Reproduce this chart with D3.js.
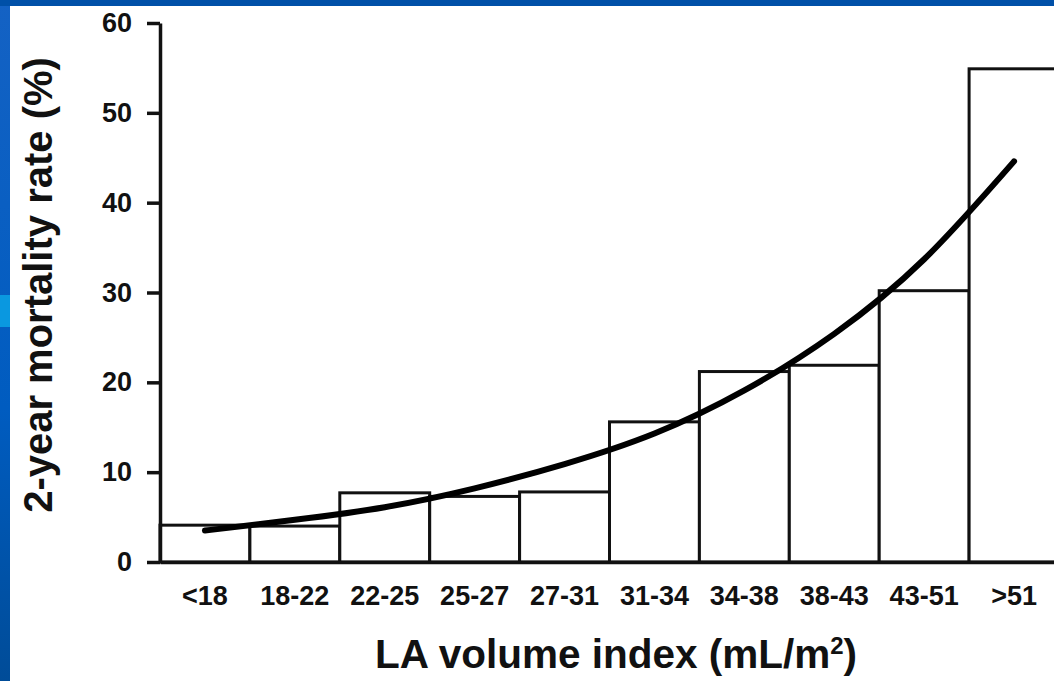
<!DOCTYPE html>
<html>
<head>
<meta charset="utf-8">
<script src="https://cdn.jsdelivr.net/npm/d3@7"></script>
<style>
  body { margin: 0; overflow: hidden; background: #fff; }
  text { font-family: "Liberation Sans", Arial, Helvetica, sans-serif; font-weight: bold; fill: #111; }
</style>
</head>
<body>
<div id="chart"></div>
<script>
// values
const categories = ["<18", "18-22", "22-25", "25-27", "27-31", "31-34", "34-38", "38-43", "43-51", ">51"];
const mortality = [4.1, 4.0, 7.7, 7.3, 7.8, 15.6, 21.2, 21.9, 30.2, 54.9];
// fitted curve, read at each bin centre
const fitCurve = [3.5, 4.7, 6.1, 8.2, 10.9, 14.3, 19.1, 25.4, 33.7, 44.6];
const yTicks = [0, 10, 20, 30, 40, 50, 60];

const width = 1054;
const height = 681;

const margin = {
    top: 23,
    left: 160,
    right: -5,
    bottom: 119
};

const svg = d3.select("#chart")
    .append("svg")
    .attr("width", width)
    .attr("height", height);

// slide frame
const grad = svg.append("defs").append("linearGradient")
    .attr("id", "side")
    .attr("x1", 0).attr("y1", 0).attr("x2", 0).attr("y2", 1);
grad.append("stop").attr("offset", "0%").attr("stop-color", "#1462c4");
grad.append("stop").attr("offset", "60%").attr("stop-color", "#005cc0");
grad.append("stop").attr("offset", "100%").attr("stop-color", "#004c98");

svg.append("rect").attr("x", 0).attr("y", 0).attr("width", 10).attr("height", height).attr("fill", "url(#side)");
svg.append("rect").attr("x", 0).attr("y", 295).attr("width", 10).attr("height", 32).attr("fill", "#0a98e0");
svg.append("rect").attr("x", 0).attr("y", 0).attr("width", width).attr("height", 6).attr("fill", "#0050a8");

const xScale = d3.scaleBand()
    .domain(categories)
    .range([margin.left, width - margin.right])
    .padding(0);

const yScale = d3.scaleLinear()
    .domain([0, 60])
    .range([height - margin.bottom, margin.top]);

// bars
svg.selectAll("rect.bar")
    .data(categories)
    .enter()
    .append("rect")
        .attr("class", "bar")
        .attr("x", function(d) { return xScale(d); })
        .attr("y", function(d, i) { return yScale(mortality[i]); })
        .attr("width", xScale.bandwidth())
        .attr("height", function(d, i) { return yScale(0) - yScale(mortality[i]); })
        .attr("fill", "#fff")
        .attr("stroke", "#111")
        .attr("stroke-width", 3);

// fitted curve
const line = d3.line()
    .x(function(d, i) { return xScale(categories[i]) + xScale.bandwidth() / 2; })
    .y(function(d) { return yScale(d); })
    .curve(d3.curveNatural);

svg.append("path")
    .datum(fitCurve)
    .attr("d", line)
    .attr("fill", "none")
    .attr("stroke", "#000")
    .attr("stroke-width", 6)
    .attr("stroke-linecap", "round");

// axes
const xAxis = svg.append("g")
    .attr("transform", `translate(0,${yScale(0)})`)
    .call(d3.axisBottom(xScale).tickSize(0).tickPadding(24));

xAxis.select(".domain").attr("stroke", "#111").attr("stroke-width", 3.5);
xAxis.selectAll("text")
    .style("font-size", "27px")
    .attr("fill", "#111");

const yAxis = svg.append("g")
    .attr("transform", `translate(${margin.left},0)`)
    .call(d3.axisLeft(yScale).tickValues(yTicks).tickSize(13).tickSizeOuter(0).tickPadding(15));

yAxis.select(".domain").attr("stroke", "#111").attr("stroke-width", 3.5);
yAxis.selectAll("line").attr("stroke", "#111").attr("stroke-width", 3.5);
yAxis.selectAll("text")
    .style("font-size", "27px")
    .attr("fill", "#111");

// axis titles
const xAxisLabel = svg.append("text")
    .attr("x", 616)
    .attr("y", 668)
    .attr("text-anchor", "middle")
    .style("font-size", "40.5px");
xAxisLabel.append("tspan").text("LA volume index (mL/m");
xAxisLabel.append("tspan").attr("dy", -14).style("font-size", "24px").text("2");
xAxisLabel.append("tspan").attr("dy", 14).text(")");

svg.append("text")
    .attr("transform", "rotate(-90)")
    .attr("x", -285)
    .attr("y", 52)
    .attr("text-anchor", "middle")
    .style("font-size", "40px")
    .text("2-year mortality rate (%)");
</script>
</body>
</html>
